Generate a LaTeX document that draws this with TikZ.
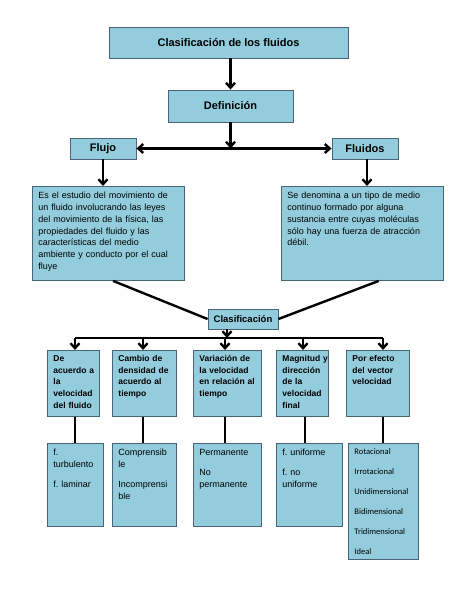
\documentclass[tikz,border=0pt]{standalone}
\usepackage{fontspec}
\setmainfont{Liberation Sans}
\newfontfamily\calibri{Carlito}
\usepackage{tikz}
\usetikzlibrary{arrows.meta, positioning, calc}
\usepackage{xcolor}
\definecolor{boxfill}{RGB}{147, 205, 221}
\definecolor{boxline}{RGB}{72, 100, 118}
\frenchspacing
\tikzset{
    box/.style={
        rectangle,
        draw=boxline,
        fill=boxfill,
        line width=0.9pt,
        inner xsep=6pt,
        inner ysep=4pt
    },
    head box/.style={
        box,
        font=\fontsize{11}{13}\selectfont\bfseries,
        align=center
    },
    text box/.style 2 args={
        box,
        anchor=north west,
        text width=#1,
        text depth=#2,
        execute at begin node={\rightskip=0pt plus 1fil minus 30pt\relax}
    },
    desc box/.style 2 args={
        text box={#1}{#2},
        text height=8.5pt,
        font=\fontsize{9}{11.7}\selectfont
    },
    cat box/.style 2 args={
        text box={#1}{#2},
        text height=7pt,
        font=\fontsize{8.5}{11.7}\selectfont\bfseries
    },
    arrow/.style={
        -{Straight Barb[length=5pt, width=9pt]},
        line width=2.4pt,
        draw=black
    },
    link/.style={
        line width=2.4pt,
        draw=black
    }
}

\begin{document}
\begin{tikzpicture}[x=1pt, y=-1pt]

\useasboundingbox[fill=white] (0, 0) rectangle (474, 613);

% Title
\node[head box, minimum width=239pt, minimum height=31pt] (title) at (228.5, 42.5) {Clasificación de los fluidos};

% === DEFINITION ===
\node[head box, minimum width=125pt, minimum height=32pt] (def) at (230.5, 106) {Definición};
\node[head box, minimum width=66pt, minimum height=21pt] (flujo) at (103, 148.5) {Flujo};
\node[head box, minimum width=66pt, minimum height=21pt] (fluidos) at (365, 148.5) {Fluidos};

% Descriptions
\node[desc box={140pt}{77.5pt}] (flujo_txt) at (32, 186) {
    Es el estudio del movimiento de\\
    un fluido involucrando las leyes\\
    del movimiento de la física, las\\
    propiedades del fluido y las\\
    características del medio\\
    ambiente y conducto por el cual\\
    fluye
};
\node[desc box={150pt}{77.5pt}] (fluidos_txt) at (281, 186) {
    Se denomina a un tipo de medio\\
    continuo formado por alguna\\
    sustancia entre cuyas moléculas\\
    sólo hay una fuerza de atracción\\
    débil.
};

% === CLASSIFICATION ===
\node[box, minimum width=70pt, minimum height=20pt, inner sep=0pt,
      font=\fontsize{9.5}{11}\selectfont\bfseries] (clasif) at (243, 319) {Clasificación};

% Criteria
\node[cat box={40pt}{51pt}] (crit_a) at (47, 350) {
    De\\ acuerdo a\\ la\\ velocidad\\ del fluido
};
\node[cat box={52pt}{51pt}] (crit_b) at (112, 350) {
    Cambio de\\ densidad de\\ acuerdo al\\ tiempo
};
\node[cat box={56pt}{51pt}] (crit_c) at (193, 350) {
    Variación de\\ la velocidad\\ en relación al\\ tiempo
};
\node[cat box={40pt}{51pt}] (crit_d) at (276, 350) {
    Magnitud y\\ dirección\\ de la\\ velocidad\\ final
};
\node[cat box={51pt}{51pt}] (crit_e) at (346, 350) {
    Por efecto\\ del vector\\ velocidad
};

% Types
\node[desc box={44pt}{66.5pt}] (type_a) at (47, 443) {
    f.\\ turbulento\\[8pt] f. laminar
};
\node[desc box={52pt}{66.5pt}] (type_b) at (112, 443) {
    Comprensib\\ le\\[8pt] Incomprensi\\ ble
};
\node[desc box={56pt}{66.5pt}] (type_c) at (193, 443) {
    Permanente\\[8pt] No\\ permanente
};
\node[desc box={54pt}{66.5pt}] (type_d) at (276, 443) {
    f. uniforme\\[8pt] f. no\\ uniforme
};
\node[text box={58pt}{101pt}, text height=7pt,
      font=\calibri\fontsize{8.5}{20}\selectfont] (type_e) at (348, 443) {
    Rotacional\\ Irrotacional\\ Unidimensional\\ Bidimensional\\ Tridimensional\\ Ideal
};

% === CONNECTORS ===
\coordinate (split) at (def.south |- flujo.east);
\coordinate (fl_drop) at (367, 0);
\coordinate (hub) at (227, 338);
\coordinate (col_a) at (75, 338);
\coordinate (col_b) at (143, 338);
\coordinate (col_c) at (225, 338);
\coordinate (col_d) at (303, 338);
\coordinate (col_e) at (383, 338);

\draw[arrow] (title.south -| def.north) -- (def.north);
\draw[arrow] (def.south) -- (split);
\draw[arrow, {Straight Barb[length=5pt, width=9pt]}-{Straight Barb[length=5pt, width=9pt]}] (flujo.east) -- (fluidos.west);
\draw[arrow] (flujo.south) -- (flujo.south |- flujo_txt.north);
\draw[arrow] (fl_drop |- fluidos.south) -- (fl_drop |- fluidos_txt.north);

% into Clasificación
\draw[link] ($(flujo_txt.south west)!0.53!(flujo_txt.south east)$) -- (clasif.west);
\draw[link] ($(fluidos_txt.south west)!0.6!(fluidos_txt.south east)$) -- (clasif.east);

% bar to the criteria
\draw[arrow] (hub |- clasif.south) -- (hub);
\draw[link] (col_a) -- (col_e);
\draw[arrow] (col_a) -- (col_a |- crit_a.north);
\draw[arrow] (col_b) -- (col_b |- crit_b.north);
\draw[arrow] (col_c) -- (col_c |- crit_c.north);
\draw[arrow] (col_d) -- (col_d |- crit_d.north);
\draw[arrow] (col_e) -- (col_e |- crit_e.north);

% criteria to types
\draw[link] (col_a |- crit_a.south) -- (col_a |- type_a.north);
\draw[link] (col_b |- crit_b.south) -- (col_b |- type_b.north);
\draw[link] (col_c |- crit_c.south) -- (col_c |- type_c.north);
\draw[link] ([xshift=2pt]col_d |- crit_d.south) -- ([xshift=2pt]col_d |- type_d.north);
\draw[link] (col_e |- crit_e.south) -- (col_e |- type_e.north);

\end{tikzpicture}
\end{document}
